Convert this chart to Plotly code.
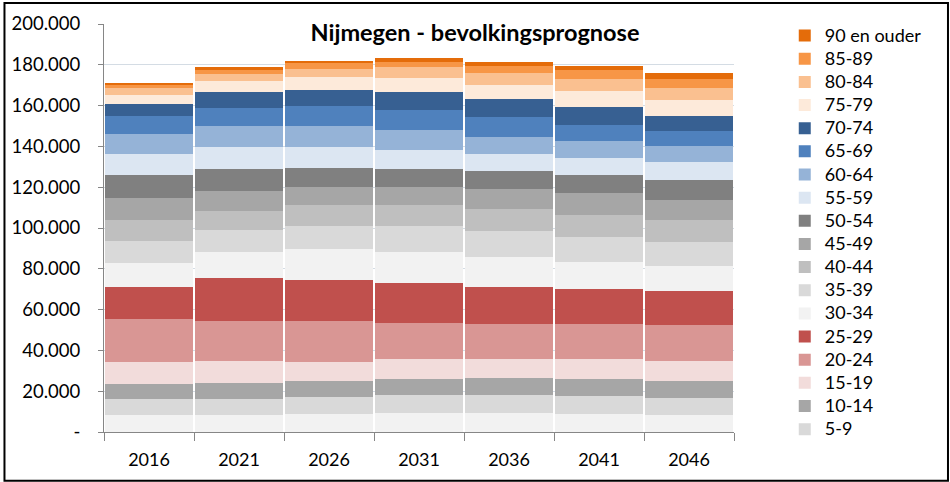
import plotly.graph_objects as go

years = ["2016", "2021", "2026", "2031", "2036", "2041", "2046"]

age_groups = ["0-4", "5-9", "10-14", "15-19", "20-24", "25-29", "30-34", "35-39",
              "40-44", "45-49", "50-54", "55-59", "60-64", "65-69", "70-74",
              "75-79", "80-84", "85-89", "90 en ouder"]

v_0_4   = [8280, 8280, 8770, 9250, 9250, 8770, 8280]
v_5_9   = [7800, 7800, 8280, 8770, 8770, 8770, 8280]
v_10_14 = [7300, 7800, 7800, 7800, 8280, 8280, 8280]
v_15_19 = [10700, 10700, 9700, 9740, 9700, 10200, 10200]
v_20_24 = [21400, 20000, 20000, 18030, 17000, 17000, 17500]
v_25_29 = [15600, 20900, 20000, 19490, 18000, 17000, 16550]
v_30_34 = [11700, 12700, 15100, 15100, 14600, 13150, 12200]
v_35_39 = [10700, 10700, 11200, 12670, 12700, 12200, 11700]
v_40_44 = [10200, 9700, 10200, 10230, 11200, 11200, 10700]
v_45_49 = [11200, 9700, 9250, 9250, 9700, 10700, 10200]
v_50_54 = [11200, 10700, 9250, 8770, 8770, 8770, 9700]
v_55_59 = [10200, 10700, 10200, 9250, 8280, 8280, 8770]
v_60_64 = [9700, 10200, 10200, 9740, 8280, 8280, 7800]
v_65_69 = [8800, 8800, 9700, 9740, 9700, 7800, 7300]
v_70_74 = [5800, 7800, 7800, 8770, 8770, 8770, 7300]
v_75_79 = [4500, 5400, 6800, 6820, 7300, 7800, 7800]
v_80_84 = [3400, 3400, 3900, 5360, 5850, 5850, 6300]
v_85_89 = [1800, 2300, 2600, 2440, 3400, 4400, 4400]
v_90_plus = [1000, 1100, 1300, 1950, 1950, 2400, 2900]

series = [v_0_4, v_5_9, v_10_14, v_15_19, v_20_24, v_25_29, v_30_34, v_35_39,
          v_40_44, v_45_49, v_50_54, v_55_59, v_60_64, v_65_69, v_70_74,
          v_75_79, v_80_84, v_85_89, v_90_plus]

colors = ["#F2F2F2", "#D9D9D9", "#A6A6A6", "#F2DCDB", "#D99694", "#C0504D",
          "#F2F2F2", "#D9D9D9", "#BFBFBF", "#A6A6A6", "#808080",
          "#DCE6F2", "#95B3D7", "#4F81BD", "#376092",
          "#FDEADA", "#FAC090", "#F79646", "#E46C0A"]

y_ticks = [0, 20000, 40000, 60000, 80000, 100000, 120000, 140000, 160000, 180000, 200000]
y_tick_text = ["-", "20.000", "40.000", "60.000", "80.000", "100.000", "120.000",
               "140.000", "160.000", "180.000", "200.000"]

FONT = "Lato, Open Sans, sans-serif"

fig = go.Figure()
for name, vals, col in zip(age_groups, series, colors):
    fig.add_trace(go.Bar(
        x=years, y=vals,
        name="<span style='font-size:18px'>" + name + "</span>",
        hovertext=name,
        marker=dict(color=col, line=dict(width=0)),
        showlegend=(name != "0-4"),
    ))

W, H = 950, 482
ml, mr, mt, mb = 101, 216, 22, 50
pw = W - ml - mr
ph = H - mt - mb

fig.update_layout(
    width=W, height=H,
    margin=dict(l=ml, r=mr, t=mt, b=mb, pad=0),
    barmode="stack",
    bargap=0.025,
    paper_bgcolor="white",
    plot_bgcolor="white",
    font=dict(family=FONT, size=16, color="#000000"),
    title=dict(text="<b>Nijmegen - bevolkingsprognose</b>",
               x=0.5, xref="container", xanchor="center",
               y=1 - 33 / H, yref="container", yanchor="middle",
               font=dict(size=23.5, color="#000000")),
    legend=dict(
        traceorder="reversed",
        x=(785 - ml) / pw, xanchor="left",
        y=1 + 5 / ph, yanchor="top",
        maxheight=H,
        font=dict(size=15.5, color="#000000"),
        bgcolor="rgba(0,0,0,0)",
    ),
    xaxis=dict(
        type="category",
        showline=True, linecolor="#868686", linewidth=1,
        ticks="outside", ticklen=8, tickcolor="#868686",
        tickson="boundaries",
        ticklabelstandoff=11,
        showgrid=False,
        tickfont=dict(size=18),
    ),
    yaxis=dict(
        range=[0, 200000],
        tickvals=y_ticks, ticktext=y_tick_text,
        showline=True, linecolor="#868686", linewidth=1,
        ticks="outside", ticklen=5, tickcolor="#868686",
        ticklabelstandoff=14,
        showgrid=True, gridcolor="#D4DCE4", gridwidth=1,
        zeroline=False,
        tickfont=dict(size=18.5),
    ),
    shapes=[dict(
        type="rect", xref="paper", yref="paper",
        x0=-(ml - 1) / pw, x1=1 + (mr - 1) / pw,
        y0=-(mb - 1) / ph, y1=1 + (mt - 1) / ph,
        line=dict(color="black", width=2), fillcolor="rgba(0,0,0,0)",
        layer="above",
    )],
)

fig.write_html("out.html", config={"displayModeBar": False},
               post_script="document.body.style.margin='0';")
